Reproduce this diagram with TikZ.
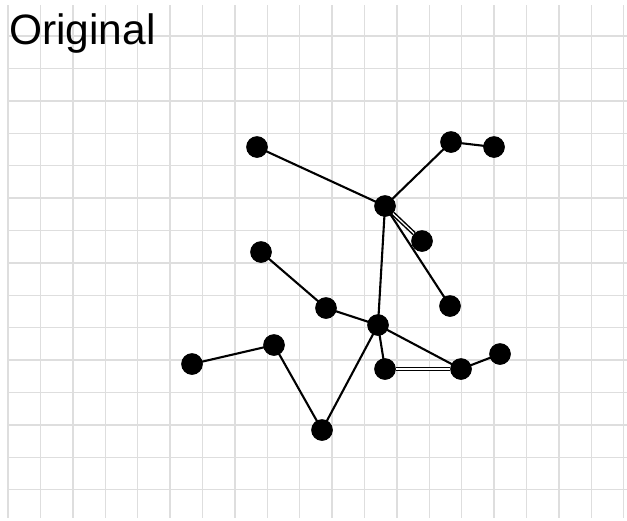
\documentclass[tikz,border=0pt]{standalone}
\usepackage{fontspec}
\setmainfont{Liberation Sans}
\begin{document}
\begin{tikzpicture}[x=1pt,y=-1pt,
  dot/.style={circle,fill=black,inner sep=0pt,minimum size=21pt},
  edge/.style={line width=2.1pt,black},
  dedge/.style={line width=1.5pt,black,double=white,double distance=1.3pt},
  gridline/.style={line width=1.4pt,black!13}]
\useasboundingbox (0,0) rectangle (627,520);
\fill[white] (0,0) rectangle (627,520);
\foreach \i in {0,...,19} \draw[gridline] (8+32.4*\i,5) -- (8+32.4*\i,518);
\foreach \j in {0,...,14} \draw[gridline] (8,36+32.4*\j) -- (627,36+32.4*\j);
\node[anchor=base west,inner sep=0pt,font=\fontsize{42.5}{46}\selectfont] (title) at (9,44) {Original};
\node[dot] (a) at (257,147) {};
\node[dot] (b) at (451,142) {};
\node[dot] (c) at (494,147) {};
\node[dot] (d) at (385,206) {};
\node[dot] (e) at (422,241) {};
\node[dot] (f) at (261,252) {};
\node[dot] (g) at (450,306) {};
\node[dot] (h) at (326,308) {};
\node[dot] (i) at (378,325) {};
\node[dot] (j) at (192,364) {};
\node[dot] (k) at (274,345) {};
\node[dot] (l) at (322,430) {};
\node[dot] (m) at (385,369) {};
\node[dot] (n) at (461,369) {};
\node[dot] (o) at (500,354) {};
\draw[edge] (a.center) -- (d.center);
\draw[edge] (d.center) -- (b.center);
\draw[edge] (b.center) -- (c.center);
\draw[dedge] (d) -- (e);
\draw[edge] (d.center) -- (g.center);
\draw[edge] (d.center) -- (i.center);
\draw[edge] (f.center) -- (h.center);
\draw[edge] (h.center) -- (i.center);
\draw[edge] (i.center) -- (n.center);
\draw[edge] (i.center) -- (m.center);
\draw[dedge] (m) -- (n);
\draw[edge] (n.center) -- (o.center);
\draw[edge] (j.center) -- (k.center);
\draw[edge] (k.center) -- (l.center);
\draw[edge] (l.center) -- (i.center);
\foreach \p in {a,b,c,d,e,f,g,h,i,j,k,l,m,n,o} \fill (\p) circle (10.8pt);
\end{tikzpicture}
\end{document}
